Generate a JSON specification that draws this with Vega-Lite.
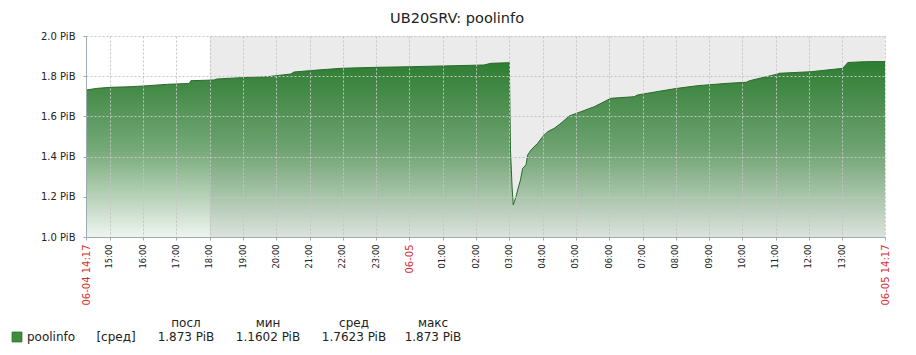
{
  "$schema": "https://vega.github.io/schema/vega-lite/v6.json",
  "padding": {"left": 10, "top": 10, "right": 5, "bottom": 5},
  "background": "#ffffff",
  "config": {"view": {"stroke": null}, "font": "DejaVu Sans"},
  "title": {"text": "UB20SRV: poolinfo", "font": "DejaVu Sans", "fontSize": 14.5, "fontWeight": "normal", "color": "#222222", "anchor": "middle", "offset": 5, "dx": 7},
  "spacing": 86,
  "bounds": "flush",
  "datasets": {
    "series": [
      {"time": "2024-06-04T14:17:00", "value": 1.7313},
      {"time": "2024-06-04T14:38:00", "value": 1.7398},
      {"time": "2024-06-04T15:02:00", "value": 1.7448},
      {"time": "2024-06-04T15:38:00", "value": 1.7478},
      {"time": "2024-06-04T16:08:00", "value": 1.7527},
      {"time": "2024-06-04T16:44:00", "value": 1.7597},
      {"time": "2024-06-04T17:23:00", "value": 1.7637},
      {"time": "2024-06-04T17:26:00", "value": 1.7776},
      {"time": "2024-06-04T18:08:00", "value": 1.7811},
      {"time": "2024-06-04T18:13:00", "value": 1.7861},
      {"time": "2024-06-04T18:56:00", "value": 1.7925},
      {"time": "2024-06-04T19:44:00", "value": 1.7975},
      {"time": "2024-06-04T20:26:00", "value": 1.8109},
      {"time": "2024-06-04T20:32:00", "value": 1.8209},
      {"time": "2024-06-04T21:15:00", "value": 1.8308},
      {"time": "2024-06-04T21:57:00", "value": 1.8393},
      {"time": "2024-06-04T23:03:00", "value": 1.8443},
      {"time": "2024-06-05T00:03:00", "value": 1.8473},
      {"time": "2024-06-05T01:20:00", "value": 1.8522},
      {"time": "2024-06-05T02:14:00", "value": 1.8557},
      {"time": "2024-06-05T02:27:00", "value": 1.8642},
      {"time": "2024-06-05T03:00:00", "value": 1.8672},
      {"time": "2024-06-05T03:02:00", "value": 1.4328},
      {"time": "2024-06-05T03:05:00", "value": 1.2438},
      {"time": "2024-06-05T03:07:00", "value": 1.1602},
      {"time": "2024-06-05T03:12:00", "value": 1.2005},
      {"time": "2024-06-05T03:15:00", "value": 1.2338},
      {"time": "2024-06-05T03:20:00", "value": 1.2836},
      {"time": "2024-06-05T03:24:00", "value": 1.3418},
      {"time": "2024-06-05T03:30:00", "value": 1.3582},
      {"time": "2024-06-05T03:33:00", "value": 1.4080},
      {"time": "2024-06-05T03:39:00", "value": 1.4328},
      {"time": "2024-06-05T03:51:00", "value": 1.4662},
      {"time": "2024-06-05T04:00:00", "value": 1.4990},
      {"time": "2024-06-05T04:09:00", "value": 1.5239},
      {"time": "2024-06-05T04:21:00", "value": 1.5408},
      {"time": "2024-06-05T04:33:00", "value": 1.5657},
      {"time": "2024-06-05T04:48:00", "value": 1.6020},
      {"time": "2024-06-05T05:09:00", "value": 1.6234},
      {"time": "2024-06-05T05:33:00", "value": 1.6483},
      {"time": "2024-06-05T06:03:00", "value": 1.6900},
      {"time": "2024-06-05T06:45:00", "value": 1.6980},
      {"time": "2024-06-05T06:51:00", "value": 1.7065},
      {"time": "2024-06-05T07:33:00", "value": 1.7264},
      {"time": "2024-06-05T08:03:00", "value": 1.7398},
      {"time": "2024-06-05T08:39:00", "value": 1.7527},
      {"time": "2024-06-05T09:34:00", "value": 1.7647},
      {"time": "2024-06-05T10:07:00", "value": 1.7697},
      {"time": "2024-06-05T10:13:00", "value": 1.7776},
      {"time": "2024-06-05T11:04:00", "value": 1.8109},
      {"time": "2024-06-05T11:06:00", "value": 1.8144},
      {"time": "2024-06-05T12:04:00", "value": 1.8224},
      {"time": "2024-06-05T13:01:00", "value": 1.8393},
      {"time": "2024-06-05T13:10:00", "value": 1.8682},
      {"time": "2024-06-05T13:40:00", "value": 1.8721},
      {"time": "2024-06-05T14:17:00", "value": 1.8730}
    ],
    "offhours": [
      {"start": "2024-06-04T18:00:00", "end": "2024-06-05T14:17:00"}
    ],
    "legendtext": [
      {"col": 1, "row": "v", "label": "poolinfo"},
      {"col": 2, "row": "v", "label": "[сред]"},
      {"col": 3, "row": "h", "label": "посл"},
      {"col": 3, "row": "v", "label": "1.873 PiB"},
      {"col": 4, "row": "h", "label": "мин"},
      {"col": 4, "row": "v", "label": "1.1602 PiB"},
      {"col": 5, "row": "h", "label": "сред"},
      {"col": 5, "row": "v", "label": "1.7623 PiB"},
      {"col": 6, "row": "h", "label": "макс"},
      {"col": 6, "row": "v", "label": "1.873 PiB"}
    ],
    "legendkey": [
      {"col": 0, "row": "v", "series": "poolinfo"}
    ]
  },
  "vconcat": [
    {
      "width": 799,
      "height": 201,
      "layer": [
        {
          "data": {"name": "offhours"},
          "mark": {"type": "rect", "color": "#ebebeb"},
          "encoding": {
            "x": {
              "field": "start", "type": "temporal",
              "scale": {"domain": [{"year": 2024, "month": 6, "date": 4, "hours": 14, "minutes": 17}, {"year": 2024, "month": 6, "date": 5, "hours": 14, "minutes": 17}]},
              "axis": {
                "title": null,
                "values": [
                  {"year": 2024, "month": 6, "date": 4, "hours": 14, "minutes": 17},
                  {"year": 2024, "month": 6, "date": 4, "hours": 15},
                  {"year": 2024, "month": 6, "date": 4, "hours": 16},
                  {"year": 2024, "month": 6, "date": 4, "hours": 17},
                  {"year": 2024, "month": 6, "date": 4, "hours": 18},
                  {"year": 2024, "month": 6, "date": 4, "hours": 19},
                  {"year": 2024, "month": 6, "date": 4, "hours": 20},
                  {"year": 2024, "month": 6, "date": 4, "hours": 21},
                  {"year": 2024, "month": 6, "date": 4, "hours": 22},
                  {"year": 2024, "month": 6, "date": 4, "hours": 23},
                  {"year": 2024, "month": 6, "date": 5, "hours": 0},
                  {"year": 2024, "month": 6, "date": 5, "hours": 1},
                  {"year": 2024, "month": 6, "date": 5, "hours": 2},
                  {"year": 2024, "month": 6, "date": 5, "hours": 3},
                  {"year": 2024, "month": 6, "date": 5, "hours": 4},
                  {"year": 2024, "month": 6, "date": 5, "hours": 5},
                  {"year": 2024, "month": 6, "date": 5, "hours": 6},
                  {"year": 2024, "month": 6, "date": 5, "hours": 7},
                  {"year": 2024, "month": 6, "date": 5, "hours": 8},
                  {"year": 2024, "month": 6, "date": 5, "hours": 9},
                  {"year": 2024, "month": 6, "date": 5, "hours": 10},
                  {"year": 2024, "month": 6, "date": 5, "hours": 11},
                  {"year": 2024, "month": 6, "date": 5, "hours": 12},
                  {"year": 2024, "month": 6, "date": 5, "hours": 13},
                  {"year": 2024, "month": 6, "date": 5, "hours": 14, "minutes": 17}
                ],
                "tickCount": 60,
                "labelExpr": "minutes(datum.value) == 17 ? timeFormat(datum.value, '%m-%d %H:%M') : (hours(datum.value) == 0 ? timeFormat(datum.value, '%m-%d') : timeFormat(datum.value, '%H:%M'))",
                "labelAngle": 270,
                "labelFont": "DejaVu Sans",
                "labelFontSize": {"condition": {"test": "minutes(datum.value) == 17 || hours(datum.value) == 0", "value": 10}, "value": 8.3},
                "labelColor": {"condition": {"test": "minutes(datum.value) == 17 || hours(datum.value) == 0", "value": "#d83030"}, "value": "#222222"},
                "labelPadding": 4,
                "labelOverlap": false,
                "labelFlush": false,
                "labelBound": false,
                "tickSize": 3,
                "tickColor": "#a0a8b0",
                "domainColor": "#a0a8b0",
                "grid": true,
                "gridDash": [2, 2],
                "gridColor": "#c4c4c4",
                "zindex": 1
              }
            },
            "x2": {"field": "end"}
          }
        },
        {
          "data": {"name": "series"},
          "mark": {
            "type": "area",
            "opacity": 1,
            "fillOpacity": 1,
            "color": {
              "gradient": "linear", "x1": 0, "y1": 0, "x2": 0, "y2": 1,
              "stops": [
                {"offset": 0, "color": "rgba(46,125,50,1)"},
                {"offset": 0.5, "color": "rgba(46,125,50,0.66)"},
                {"offset": 1, "color": "rgba(46,125,50,0.08)"}
              ]
            },
            "line": {"color": "#2a6a2c", "strokeWidth": 1}
          },
          "encoding": {
            "x": {"field": "time", "type": "temporal", "title": null},
            "y": {
              "field": "value", "type": "quantitative",
              "scale": {"domain": [1, 2], "nice": false, "zero": false},
              "axis": {
                "title": null,
                "values": [1, 1.2, 1.4, 1.6, 1.8, 2],
                "tickCount": 20,
                "labelExpr": "format(datum.value, '.1f') + ' PiB'",
                "labelFont": "DejaVu Sans",
                "labelFontSize": 10,
                "labelColor": "#222222",
                "labelPadding": 8,
                "tickSize": 3,
                "tickColor": "#a0a8b0",
                "domainColor": "#a0a8b0",
                "grid": true,
                "gridDash": [2, 2],
                "gridColor": "#c4c4c4",
                "zindex": 1
              }
            },
            "y2": {"datum": 1}
          }
        },
        {
          "mark": {"type": "point", "shape": "triangle-up", "filled": false, "size": 30, "color": "#a0a8b0", "strokeWidth": 1},
          "encoding": {
            "x": {"datum": {"year": 2024, "month": 6, "date": 4, "hours": 14, "minutes": 17}, "type": "temporal"},
            "y": {"datum": 2.035, "type": "quantitative"}
          }
        },
        {
          "mark": {"type": "point", "shape": "triangle-right", "filled": false, "size": 30, "color": "#a0a8b0", "strokeWidth": 1},
          "encoding": {
            "x": {"datum": {"year": 2024, "month": 6, "date": 5, "hours": 14, "minutes": 30}, "type": "temporal"},
            "y": {"datum": 1, "type": "quantitative"}
          }
        }
      ]
    },
    {
      "width": 799,
      "height": 14,
      "layer": [
        {
          "data": {"name": "legendkey"},
          "mark": {"type": "point", "shape": "square", "filled": true, "size": 95, "fill": "#3e8e3e", "stroke": "#2b6a2b", "strokeWidth": 1, "opacity": 1},
          "encoding": {
            "x": {"field": "col", "type": "quantitative", "scale": {"domain": [0, 1, 2, 3, 4, 5, 6], "range": [-69, -35, 30, 100, 182, 268, 347]}, "axis": null},
            "y": {"field": "row", "type": "nominal", "scale": {"type": "point", "domain": ["h", "v"], "range": [0, 14], "padding": 0}, "axis": null}
          }
        },
        {
          "data": {"name": "legendtext"},
          "mark": {"type": "text", "fontSize": 12, "font": "DejaVu Sans", "color": "#222222", "align": "center", "baseline": "middle"},
          "encoding": {
            "x": {"field": "col", "type": "quantitative", "axis": null},
            "y": {"field": "row", "type": "nominal", "axis": null},
            "text": {"field": "label", "type": "nominal"}
          }
        }
      ]
    }
  ]
}
